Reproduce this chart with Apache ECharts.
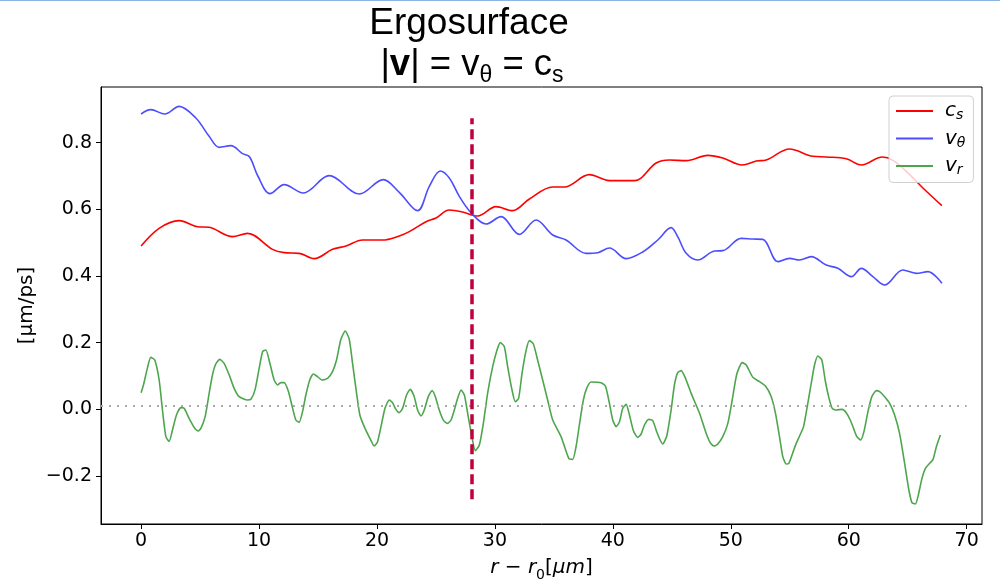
<!DOCTYPE html>
<html>
<head>
<meta charset="utf-8">
<title>Ergosurface</title>
<script src="https://cdn.jsdelivr.net/npm/echarts@6/dist/echarts.min.js"></script>
<style>
  html, body { margin: 0; padding: 0; background: #fff; }
  #main { width: 1000px; height: 583px; }
</style>
</head>
<body>
<div id="main"></div>
<script>
// values: [r - r0 (um), speed (um/ps)]
var csPoints = [
  [0, 0.490], [1.53, 0.543], [3.22, 0.566], [4.78, 0.548], [5.77, 0.546], [7.75, 0.518],
  [9.02, 0.528], [11.14, 0.480], [12.13, 0.470], [13.4, 0.468], [14.68, 0.452], [16.23, 0.480],
  [17.37, 0.490], [18.78, 0.508], [20.47, 0.508], [21.89, 0.520], [22.74, 0.533], [24.16, 0.563],
  [25.0, 0.574], [26.13, 0.598], [27.26, 0.592], [28.53, 0.580], [30.09, 0.608], [31.5, 0.596],
  [32.92, 0.631], [34.9, 0.667], [35.89, 0.667], [38.01, 0.704], [39.71, 0.686], [41.84, 0.686],
  [43.67, 0.739], [44.8, 0.748], [46.22, 0.746], [48.05, 0.762], [49.32, 0.754], [50.97, 0.733],
  [52.16, 0.745], [53.0, 0.748], [54.98, 0.781], [56.96, 0.759], [58.09, 0.757], [59.79, 0.752],
  [61.07, 0.733], [62.85, 0.757], [63.75, 0.747], [64.88, 0.714], [66.29, 0.664], [67.9, 0.611]
];
var vThetaPoints = [
  [0, 0.886], [0.82, 0.899], [2.01, 0.886], [3.22, 0.909], [4.64, 0.874], [5.77, 0.819],
  [6.62, 0.786], [7.61, 0.791], [8.6, 0.767], [9.2, 0.757], [9.9, 0.700], [10.92, 0.647],
  [12.13, 0.674], [13.75, 0.649], [15.95, 0.701], [18.5, 0.646], [20.53, 0.689], [21.89, 0.651],
  [23.44, 0.596], [24.44, 0.669], [25.37, 0.715], [26.13, 0.694], [26.98, 0.639], [27.97, 0.590],
  [29.25, 0.556], [30.52, 0.578], [32.07, 0.525], [33.49, 0.568], [34.9, 0.523], [36.03, 0.508],
  [37.73, 0.468], [38.72, 0.470], [39.71, 0.484], [41.13, 0.452], [42.53, 0.472], [43.81, 0.508],
  [44.94, 0.545], [45.5, 0.518], [46.22, 0.468], [47.2, 0.448], [48.62, 0.475], [49.32, 0.476],
  [50.88, 0.513], [51.87, 0.511], [52.72, 0.510], [53.99, 0.443], [54.98, 0.453], [55.83, 0.448],
  [56.82, 0.458], [58.09, 0.433], [59.08, 0.423], [60.22, 0.398], [61.07, 0.423], [62.05, 0.398],
  [63.04, 0.373], [64.59, 0.418], [65.73, 0.408], [66.72, 0.413], [67.9, 0.378]
];
var vrPoints = [
  [0, 0.050], [0.2, 0.073], [0.53, 0.123], [0.82, 0.156], [1.16, 0.148], [1.53, 0.088],
  [1.81, -0.002], [2.1, -0.082], [2.38, -0.096], [2.66, -0.062], [3.0, -0.017], [3.37, 0.005],
  [3.65, 0.003], [4.07, -0.027], [4.55, -0.057], [4.84, -0.065], [5.07, -0.057], [5.43, -0.022],
  [5.77, 0.048], [6.05, 0.103], [6.33, 0.136], [6.67, 0.150], [7.04, 0.138], [7.47, 0.103],
  [7.89, 0.063], [8.31, 0.038], [9.02, 0.028], [9.31, 0.030], [9.67, 0.060], [10.01, 0.123],
  [10.3, 0.173], [10.58, 0.178], [10.92, 0.138], [11.28, 0.088], [11.57, 0.073], [11.85, 0.080],
  [12.13, 0.080], [12.5, 0.053], [12.78, 0.013], [13.12, -0.032], [13.4, -0.039], [13.69, -0.007],
  [13.97, 0.043], [14.3, 0.088], [14.6, 0.106], [14.96, 0.098], [15.33, 0.088], [15.81, 0.093],
  [16.23, 0.113], [16.57, 0.148], [16.94, 0.210], [17.31, 0.235], [17.65, 0.210], [17.93, 0.138],
  [18.27, 0.048], [18.55, -0.017], [18.92, -0.052], [19.4, -0.087], [19.77, -0.110], [20.05, -0.097],
  [20.34, -0.052], [20.68, 0.003], [21.04, 0.028], [21.32, 0.020], [21.6, 0.000], [21.89, -0.010],
  [22.17, 0.003], [22.51, 0.043], [22.82, 0.060], [23.16, 0.038], [23.44, -0.002], [23.73, -0.020],
  [24.01, -0.002], [24.35, 0.038], [24.67, 0.056], [24.95, 0.038], [25.28, -0.002], [25.65, -0.034],
  [25.99, -0.042], [26.28, -0.032], [26.56, -0.002], [26.84, 0.033], [27.13, 0.058], [27.41, 0.043],
  [27.69, -0.012], [27.97, -0.067], [28.34, -0.124], [28.68, -0.107], [29.02, -0.042], [29.38, 0.048],
  [29.81, 0.128], [30.18, 0.178], [30.46, 0.200], [30.8, 0.188], [31.08, 0.128], [31.42, 0.063],
  [31.73, 0.023], [32.01, 0.033], [32.3, 0.108], [32.64, 0.176], [32.92, 0.206], [33.26, 0.196],
  [33.62, 0.148], [34.05, 0.088], [34.47, 0.028], [34.9, -0.032], [35.61, -0.082], [36.26, -0.147],
  [36.6, -0.150], [36.88, -0.112], [37.16, -0.047], [37.5, 0.028], [37.78, 0.063], [38.16, 0.082],
  [39.0, 0.080], [39.37, 0.070], [39.71, 0.018], [39.99, -0.032], [40.28, -0.052], [40.56, -0.037],
  [40.84, 0.003], [41.13, 0.015], [41.41, -0.017], [41.74, -0.064], [42.11, -0.084], [42.4, -0.074],
  [42.68, -0.047], [43.04, -0.030], [43.38, -0.034], [43.72, -0.067], [44.01, -0.092], [44.23, -0.104],
  [44.57, -0.080], [44.94, -0.002], [45.22, 0.073], [45.5, 0.110], [45.79, 0.116], [46.16, 0.093],
  [46.64, 0.048], [47.35, -0.012], [47.91, -0.072], [48.25, -0.100], [48.56, -0.110], [48.9, -0.104],
  [49.32, -0.082], [49.75, -0.042], [50.12, 0.028], [50.51, 0.106], [50.97, 0.140], [51.31, 0.133],
  [51.87, 0.096], [52.44, 0.083], [52.94, 0.070], [53.43, 0.038], [53.79, -0.012], [54.13, -0.082],
  [54.41, -0.142], [54.7, -0.164], [54.92, -0.162], [55.26, -0.130], [55.55, -0.102], [55.83, -0.080],
  [56.17, -0.052], [56.53, 0.018], [56.82, 0.078], [57.1, 0.133], [57.38, 0.160], [57.72, 0.148],
  [58.0, 0.088], [58.31, 0.036], [58.6, 0.003], [58.94, -0.002], [59.45, 0.000], [59.79, -0.010],
  [60.13, -0.032], [60.41, -0.057], [60.69, -0.082], [61.01, -0.092], [61.29, -0.067], [61.63, -0.007],
  [61.96, 0.038], [62.34, 0.056], [62.62, 0.053], [63.04, 0.038], [63.47, 0.018], [63.89, -0.017],
  [64.31, -0.072], [64.74, -0.162], [65.1, -0.242], [65.36, -0.280], [65.65, -0.284], [65.87, -0.262],
  [66.21, -0.207], [66.5, -0.177], [66.86, -0.162], [67.15, -0.150], [67.43, -0.112], [67.77, -0.077]
];
var xTicks = [0, 10, 20, 30, 40, 50, 60, 70];
var yTicks = [-0.2, 0, 0.2, 0.4, 0.6, 0.8];
var ergoR = 28.0;            // dashed vertical marker
var ergoSpan = [-0.27, 0.873];
var refLevel = 0.01;         // dotted horizontal line
var refSpan = [-3.4, 70];

var chart = echarts.init(document.getElementById('main'));

var tickFont = { fontFamily: 'DejaVu Sans', fontSize: 19, color: '#000' };

var option = {
  animation: false,
  backgroundColor: '#fff',
  title: [
    {
      text: 'Ergosurface',
      left: 464, top: 0, textAlign: 'center',
      textStyle: { fontFamily: 'Liberation Sans', fontSize: 37, fontWeight: 'normal', color: '#000' }
    },
    {
      text: '|{b|v}| = v{s|θ} = c{s|s}',
      left: 467, top: 38, textAlign: 'center',
      textStyle: {
        fontFamily: 'Liberation Sans', fontSize: 36.5, fontWeight: 'normal', color: '#000', lineHeight: 44,
        rich: {
          b: { fontFamily: 'Liberation Sans', fontSize: 36.5, fontWeight: 'bold', lineHeight: 44 },
          s: { fontFamily: 'Liberation Sans', fontSize: 23, verticalAlign: 'bottom', lineHeight: 44 }
        }
      }
    }
  ],
  legend: {
    orient: 'vertical',
    left: 889, top: 96,
    padding: [5, 8, 5, 7],
    itemGap: 6,
    itemWidth: 37, itemHeight: 2,
    icon: 'rect',
    backgroundColor: 'rgba(255,255,255,0.8)',
    borderColor: '#d0d0d0', borderWidth: 1, borderRadius: 4,
    data: ['cs', 'vθ', 'vr'],
    formatter: function (name) {
      return '{i|' + name.charAt(0) + '}{s|' + name.charAt(1) + '}';
    },
    textStyle: {
      color: '#000',
      rich: {
        i: { fontFamily: 'DejaVu Sans', fontStyle: 'italic', fontSize: 20, lineHeight: 21, padding: [0, 0, 0, 7] },
        s: { fontFamily: 'DejaVu Sans', fontStyle: 'italic', fontSize: 14, verticalAlign: 'bottom', lineHeight: 23 }
      }
    }
  },
  grid: {
    left: 101, top: 87, width: 881, height: 437,
    outerBoundsMode: 'none', containLabel: false,
    show: true, borderColor: '#000', borderWidth: 1, backgroundColor: 'transparent'
  },
  xAxis: {
    type: 'value',
    min: -3.4, max: 71.3,
    name: '{i|r − r}{s|0}{n|[}{i|μm}{n|]}',
    nameLocation: 'middle', nameGap: 30, nameMoveOverlap: false,
    nameTextStyle: {
      color: '#000',
      rich: {
        i: { fontFamily: 'DejaVu Sans', fontStyle: 'italic', fontSize: 20, lineHeight: 26 },
        n: { fontFamily: 'DejaVu Sans', fontSize: 20, lineHeight: 26 },
        s: { fontFamily: 'DejaVu Sans', fontSize: 14, verticalAlign: 'bottom', lineHeight: 28 }
      }
    },
    axisLine: { show: true, onZero: false, lineStyle: { color: '#000', width: 1 } },
    axisTick: { show: true, length: 5, customValues: xTicks, lineStyle: { color: '#000' } },
    axisLabel: Object.assign({ margin: 8, customValues: xTicks }, tickFont),
    splitLine: { show: false }
  },
  yAxis: {
    type: 'value',
    min: -0.344, max: 0.967,
    name: '[μm/ps]',
    nameLocation: 'middle', nameGap: 64, nameRotate: 90, nameMoveOverlap: false,
    nameTextStyle: { fontFamily: 'DejaVu Sans', fontSize: 20, color: '#000' },
    axisLine: { show: true, onZero: false, lineStyle: { color: '#000', width: 1 } },
    axisTick: { show: true, length: 5, customValues: yTicks, lineStyle: { color: '#000' } },
    axisLabel: Object.assign({
      margin: 9,
      customValues: yTicks,
      formatter: function (v) { return v.toFixed(1).replace('-', '\u2212'); }
    }, tickFont),
    splitLine: { show: false }
  },
  series: [
    {
      name: 'cs', type: 'line', data: csPoints,
      showSymbol: false, smooth: 0.35,
      lineStyle: { color: '#ff0000', width: 1.6 }, itemStyle: { color: '#ff0000' },
      z: 2
    },
    {
      name: 'vθ', type: 'line', data: vThetaPoints,
      showSymbol: false, smooth: 0.35,
      lineStyle: { color: '#4d4dff', width: 1.6 }, itemStyle: { color: '#4d4dff' },
      z: 2
    },
    {
      name: 'vr', type: 'line', data: vrPoints,
      showSymbol: false, smooth: 0.2,
      lineStyle: { color: '#4da64d', width: 1.6 }, itemStyle: { color: '#4da64d' },
      z: 2,
      markLine: {
        silent: true, symbol: 'none', animation: false,
        label: { show: false },
        data: [
          [
            { coord: [refSpan[0], refLevel], lineStyle: { color: '#aaaaaa', width: 2, type: [2, 6] } },
            { coord: [refSpan[1], refLevel] }
          ],
          [
            { coord: [ergoR, ergoSpan[0]], lineStyle: { color: '#c0003c', width: 3.5, type: [10, 5] } },
            { coord: [ergoR, ergoSpan[1]] }
          ]
        ]
      }
    }
  ],
  graphic: [
    { type: 'rect', shape: { x: 0, y: 0, width: 1000, height: 1 }, style: { fill: '#8fb3e6' }, silent: true }
  ]
};

chart.setOption(option);
</script>
</body>
</html>
